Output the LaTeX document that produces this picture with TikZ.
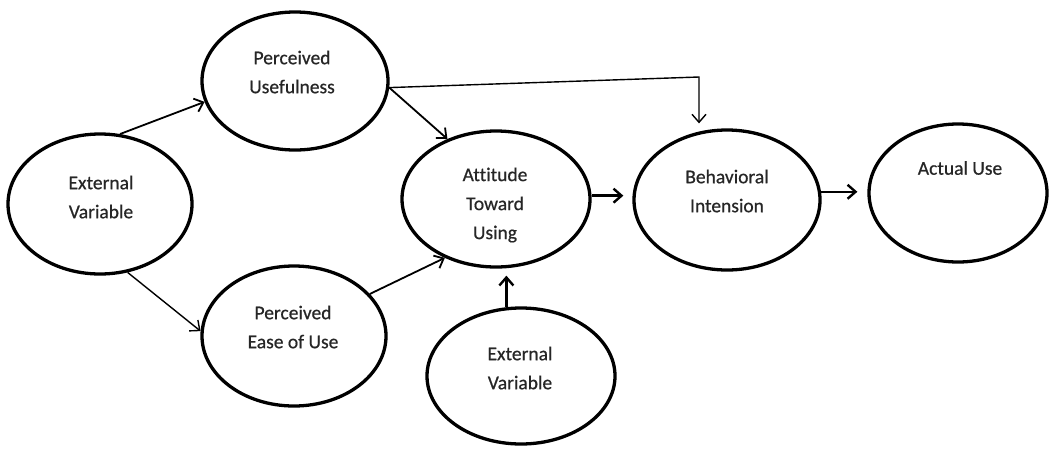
\documentclass[tikz,border=0pt]{standalone}
\usepackage{fontspec}
\setmainfont{Carlito}[Ligatures=NoCommon, FakeBold=0.6]
\usetikzlibrary{arrows.meta,calc,shapes.geometric}
\begin{document}
\begin{tikzpicture}[x=1pt,y=-1pt,
  oval/.style={draw, ellipse, line width=3.3pt, inner sep=0pt},
  lbl/.style={align=center, font=\fontsize{19.5}{29}\selectfont, inner sep=0pt, text=black!85},
  arr/.style={-{Straight Barb[length=8pt,width=14pt]}, line width=1.8pt},
  thinarr/.style={arr, line width=1.4pt},
  thickarr/.style={arr, line width=2.4pt}]
\useasboundingbox (0,0) rectangle (1054,448);
% ellipses
\node[oval, minimum width=184pt, minimum height=140pt] (ev1) at (100,204) {};
\node[oval, minimum width=186pt, minimum height=138pt] (pu)  at (295,81)  {};
\node[oval, minimum width=184pt, minimum height=140pt] (peu) at (294,336) {};
\node[oval, minimum width=188pt, minimum height=136pt] (att) at (496,199) {};
\node[oval, minimum width=188pt, minimum height=136pt] (ev2) at (521,376) {};
\node[oval, minimum width=186pt, minimum height=140pt] (bi)  at (727,200) {};
\node[oval, minimum width=178pt, minimum height=138pt] (au)  at (958,193) {};
% labels
\node[lbl] (ev1t) at (101,197) {External\\Variable};
\node[lbl] (put)  at (292,72)  {Perceived\\Usefulness};
\node[lbl] (peut) at (293,327) {Perceived\\Ease of Use};
\node[lbl] (attt) at (495,205) {Attitude\\Toward\\Using};
\node[lbl] (ev2t) at (520,368) {External\\Variable};
\node[lbl] (bit)  at (727,191) {Behavioral\\Intension};
\node[lbl] (aut)  at (960,168) {Actual Use};
% connectors
\coordinate (corner) at (699,77);
\draw[arr] (ev1.74) -- (pu.193);
\draw[thinarr] (ev1.-68) -- (peu.177);
\draw[arr] (pu.-4) -- (att.129);
\draw[arr] (peu.29) -- (att.229);
\draw[thickarr, shorten >=7pt] (ev2.102) -- (ev2.102 |- att.south);
\draw[thickarr, shorten >=9pt] (att.2) -- (bi.west |- att.2);
\draw[thickarr, shorten >=10pt] (bi.5) -- (au.west |- bi.5);
\draw[thinarr, shorten >=5pt] (pu.-4) -- (corner) -- (corner |- bi.north);
\end{tikzpicture}
\end{document}
